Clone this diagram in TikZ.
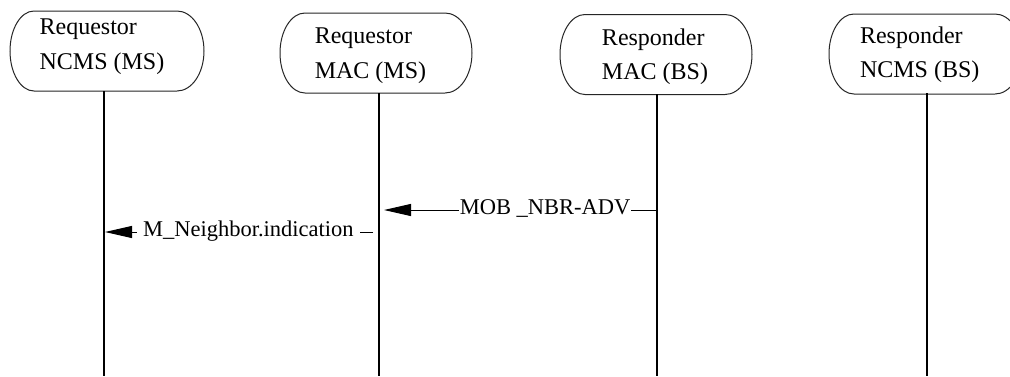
\documentclass[tikz,border=0pt]{standalone}
\usepackage{fontspec}
\setmainfont{Liberation Serif}
\usetikzlibrary{arrows.meta}
\tikzset{
  hdr/.style={draw=none, minimum width=#1, minimum height=80pt, inner sep=0pt, outer sep=0pt},
  boxline/.style={draw=black!85, line width=1pt},
  hdrtext/.style={align=left, inner sep=0pt, font=\fontsize{24}{34.5}\selectfont},
  lifeline/.style={draw=black, line width=1.3pt},
  msg/.style={draw=black, line width=1pt, -{Triangle[length=27pt,width=12pt]}},
  msgtext/.style={fill=white, inner ysep=1pt, text height=14.9pt, text depth=0pt,
                  font=\fontsize{22.5}{27}\selectfont, yshift=2.5pt}
}
\newcommand\hdrbox[3]{% node, left radius, right radius
  \draw[boxline] ([xshift=#2]#1.north west) -- ([xshift=-#3]#1.north east)
    arc[start angle=90,end angle=-90,x radius=#3,y radius=40pt]
    -- ([xshift=#2]#1.south west)
    arc[start angle=270,end angle=90,x radius=#2,y radius=40pt] -- cycle;}
\begin{document}
\begin{tikzpicture}[x=1pt,y=-1pt]
\clip (0,0) rectangle (1010,376);
\fill[white] (0,0) rectangle (1010,376);
% header boxes
\node[hdr=194pt] (b1) at (107,51) {};
\node[hdr=192pt] (b2) at (376,53) {};
\node[hdr=192pt] (b3) at (656,54.5) {};
\node[hdr=193pt] (b4) at (925.5,54) {};
\hdrbox{b1}{24pt}{27pt}
\hdrbox{b2}{25pt}{27pt}
\hdrbox{b3}{25pt}{27pt}
\hdrbox{b4}{25pt}{27pt}
% header texts
\node[hdrtext] (t1) at (102,46.7) {Requestor\\NCMS (MS)};
\node[hdrtext] (t2) at (370.5,55.7) {Requestor\\MAC (MS)};
\node[hdrtext] (t3) at (655,56.5) {Responder\\MAC (BS)};
\node[hdrtext] (t4) at (919.7,54.5) {Responder\\NCMS (BS)};
% lifelines
\coordinate (l1) at (104,91);  \coordinate (e1) at (104,376);
\coordinate (l2) at (379,93);  \coordinate (e2) at (379,376);
\coordinate (l3) at (657,94);  \coordinate (e3) at (657,376);
\coordinate (l4) at (927,93);  \coordinate (e4) at (927,376);
\draw[lifeline] (l1) -- (e1);
\draw[lifeline] (l2) -- (e2);
\draw[lifeline] (l3) -- (e3);
\draw[lifeline] (l4) -- (e4);
% messages
\coordinate (m1s) at (657,210); \coordinate (m1e) at (384,210);
\coordinate (m2s) at (373,232); \coordinate (m2e) at (105,232);
\draw[msg] (m1s) -- node[msgtext, pos=0.41, inner xsep=1pt] (n1) {MOB \_NBR-ADV} (m1e);
\draw[msg] (m2s) -- node[msgtext, pos=0.465, inner xsep=6pt] (n2) {M\_Neighbor.indication} (m2e);
\end{tikzpicture}
\end{document}
